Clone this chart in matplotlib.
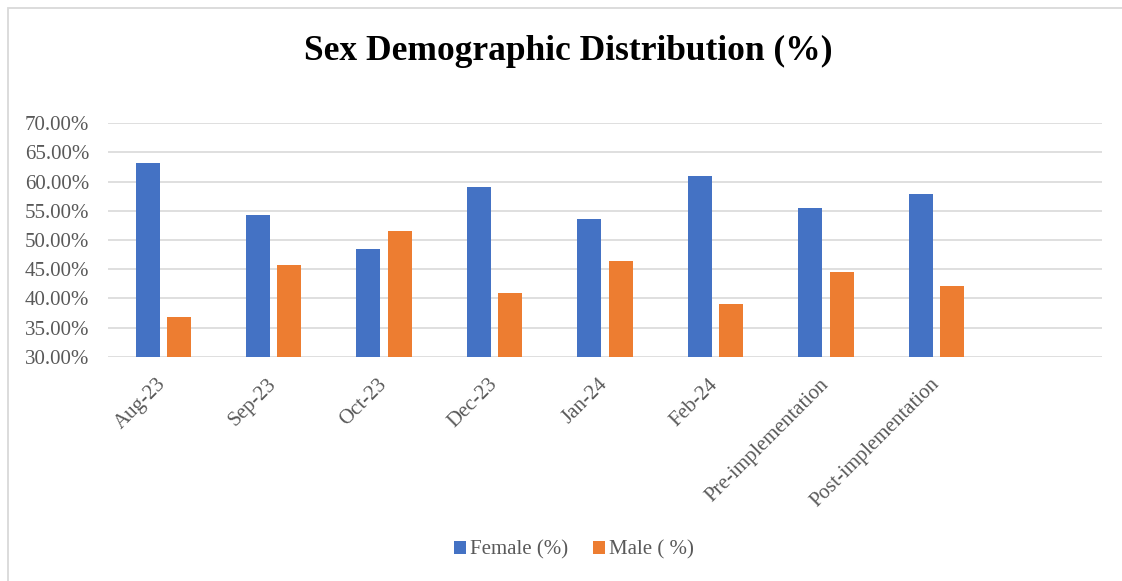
import matplotlib
matplotlib.use("Agg")
import matplotlib.pyplot as plt
from matplotlib.patches import Rectangle
import numpy as np

categories = ["Aug-23", "Sep-23", "Oct-23", "Dec-23", "Jan-24", "Feb-24",
              "Pre-implementation", "Post-implementation"]
female_pct = [63.2, 54.2, 48.5, 59.1, 53.6, 60.9, 55.4, 57.9]
male_pct = [36.8, 45.8, 51.5, 40.9, 46.4, 39.1, 44.6, 42.1]
y_ticks = [30, 35, 40, 45, 50, 55, 60, 65, 70]

BLUE = "#4472C4"
ORANGE = "#ED7D31"
GRID = "#D9D9D9"
TEXT = "#595959"

plt.rcParams["font.family"] = ["Liberation Serif", "DejaVu Serif"]

W, H = 1122, 581
fig = plt.figure(figsize=(W / 100, H / 100), dpi=100)
fig.patch.set_facecolor("white")

# chart-area frame
fig.patches.append(Rectangle((7.5 / W, -0.1), 1.2, 1.1 - 8 / H,
                             transform=fig.transFigure, fill=False,
                             edgecolor=GRID, linewidth=1.3))

ax = fig.add_axes([108 / W, 1 - 356.7 / H, (1102 - 108) / W, (356.7 - 123.3) / H])

x = np.arange(len(categories))
bw = 0.218
ax.bar(x - 0.142, female_pct, width=bw, color=BLUE, label="Female (%)", zorder=3)
ax.bar(x + 0.142, male_pct, width=bw, color=ORANGE, label="Male ( %)", zorder=3)

ax.set_xlim(-0.5, len(categories) + 0.5)
ax.set_ylim(30, 70)
ax.set_yticks(y_ticks)
ax.set_yticklabels([f"{v:.2f}%" for v in y_ticks], fontsize=15, color=TEXT)
ax.set_xticks(x)
ax.set_xticklabels(categories, rotation=45, ha="right", va="center",
                   rotation_mode="anchor", fontsize=15, color=TEXT)
ax.tick_params(axis="both", length=0)
ax.tick_params(axis="y", pad=13.5)
ax.tick_params(axis="x", pad=18)

ax.yaxis.grid(True, color=GRID, linewidth=1.2, zorder=0)
ax.set_axisbelow(True)
for s in ax.spines.values():
    s.set_visible(False)
ax.set_facecolor("white")

fig.text(568.5 / W, 1 - 51 / H, "Sex Demographic Distribution (%)",
         ha="center", va="center", fontsize=25.5, fontweight="bold", color="black")

handles, labels = ax.get_legend_handles_labels()
fig.legend(handles, labels, loc="center", bbox_to_anchor=(574 / W, 1 - 550 / H),
           ncol=2, frameon=False, fontsize=15, labelcolor=TEXT,
           handlelength=0.55, handleheight=0.55, handletextpad=0.2,
           columnspacing=1.2)

fig.savefig("out.png", dpi=100, facecolor="white")
